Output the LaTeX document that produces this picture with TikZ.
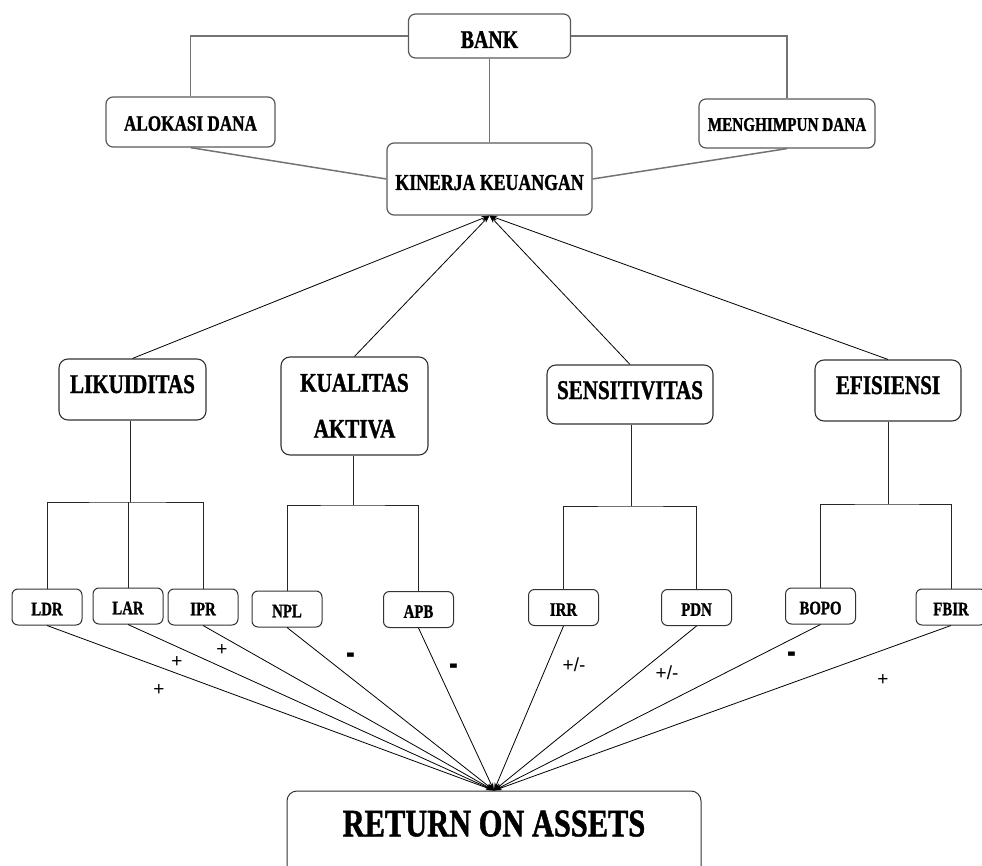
\documentclass[tikz,border=0pt]{standalone}
\usepackage{fontspec}
\setmainfont{Liberation Serif}
\newfontfamily\condf[FakeStretch=0.78, FakeBold=1.2, UprightFont=*, BoldFont=*]{Liberation Serif Bold}
\newfontfamily\labf{Liberation Sans}
\usetikzlibrary{arrows.meta}
\newcommand\bdash{\scalebox{1.4}[1.9]{\bfseries -}}
\begin{document}
\begin{tikzpicture}[x=1pt,y=-1pt,
  topbox/.style={draw=black!65, line width=1.2pt, rounded corners=7pt, inner sep=0pt, align=center},
  catbox/.style={draw=black!80, line width=1.1pt, rounded corners=9pt, inner sep=0pt, align=center,
     font=\condf\fontsize{27}{46}\selectfont, minimum width=147pt},
  smallbox/.style={draw=black!80, line width=1pt, rounded corners=6pt, inner sep=0pt,
     font=\condf\fontsize{19}{22}\selectfont, minimum width=70pt, minimum height=36pt,
     text height=16.5pt, text depth=0pt},
  topline/.style={draw=black!55, line width=1.5pt},
  tree/.style={draw=black!85, line width=1pt},
  conn/.style={draw=black, line width=0.8pt, -{Stealth[length=8pt,width=5pt]}},
  sign/.style={font=\labf\fontsize{19}{22}\selectfont, inner sep=0pt}
]
\useasboundingbox (0,0) rectangle (982,866);
\clip (0,0) rectangle (982,866);

% top level
\node[topbox, minimum width=162pt, minimum height=44pt, font=\condf\fontsize{25.5}{30}\selectfont,
      text height=24pt, text depth=0pt] (bank) at (489.5,36) {BANK};
\node[topbox, minimum width=169pt, minimum height=50pt, font=\condf\fontsize{22}{26}\selectfont,
      text height=17.5pt, text depth=0pt] (alokasi) at (190.5,122) {ALOKASI DANA};
\node[topbox, minimum width=176pt, minimum height=49pt, font=\condf\fontsize{19.5}{23}\selectfont,
      text height=14.8pt, text depth=0pt] (menghimpun) at (787,123.5) {MENGHIMPUN DANA};
\node[topbox, minimum width=205pt, minimum height=72pt, font=\condf\fontsize{22.8}{27}\selectfont,
      text height=22pt, text depth=0pt] (kinerja) at (489.5,179) {KINERJA KEUANGAN};

\draw[topline] (bank.west) -| (alokasi.north);
\draw[topline] (bank.east) -| (menghimpun.north);
\draw[topline] (bank.south) -- (kinerja.north);
\draw[topline] (alokasi.south) -- (kinerja.west);
\draw[topline] (menghimpun.south) -- (kinerja.east);

% categories
\node[catbox, minimum height=61pt, text height=18pt, text depth=11pt] (likuiditas) at (132.5,389.5) {LIKUIDITAS};
\node[catbox, minimum height=98pt] (kualitas) at (354.5,406) {KUALITAS\\AKTIVA};
\node[catbox, minimum width=166pt, minimum height=59pt, text height=18pt, text depth=9pt] (sensitivitas) at (630,394.5) {SENSITIVITAS};
\node[catbox, minimum width=146pt, minimum height=61pt, text height=18pt, text depth=11pt] (efisiensi) at (888,390.5) {EFISIENSI};

\draw[conn] (likuiditas.north) -- (kinerja.south);
\draw[conn] (kualitas.north) -- (kinerja.south);
\draw[conn] (sensitivitas.north) -- (kinerja.south);
\draw[conn] (efisiensi.north) -- (kinerja.south);

% indicators
\node[smallbox] (ldr) at (47,607) {LDR};
\node[smallbox] (lar) at (128,606) {LAR};
\node[smallbox] (ipr) at (203,607) {IPR};
\node[smallbox] (npl) at (287,609) {NPL};
\node[smallbox] (apb) at (418.5,609.5) {APB};
\node[smallbox] (irr) at (563.5,607.5) {IRR};
\node[smallbox] (pdn) at (696.5,607.5) {PDN};
\node[smallbox] (bopo) at (820.5,606) {BOPO};
\node[smallbox] (fbir) at (951,607) {FBIR};

% tree connectors
\coordinate (b1) at (130,502);
\draw[tree] (likuiditas.south -| b1) -- (b1);
\draw[tree] (ldr.north) |- (b1) -| (ipr.north);
\draw[tree] (lar.north) -- (lar.north |- b1);

\coordinate (b2) at (353,505);
\draw[tree] (kualitas.south -| b2) -- (b2);
\draw[tree] (npl.north) |- (b2) -| (apb.north);

\coordinate (b3) at (631,506);
\draw[tree] (sensitivitas.south -| b3) -- (b3);
\draw[tree] (irr.north) |- (b3) -| (pdn.north);

\coordinate (b4) at (888,504);
\draw[tree] (efisiensi.south -| b4) -- (b4);
\draw[tree] (bopo.north) |- (b4) -| (fbir.north);

% result
\node[draw=black!80, line width=1pt, rounded corners=10pt, inner sep=0pt,
      minimum width=414pt, minimum height=89pt,
      font=\condf\fontsize{39}{44}\selectfont, text height=25.7pt, text depth=24pt]
      (roa) at (494,835.5) {RETURN ON ASSETS};

\foreach \n in {ldr,lar,ipr,npl,apb,irr,pdn,bopo,fbir}
  \draw[conn] (\n.south) -- (roa.north);

% signs
\node[sign] (s1) at (159,690) {+};
\node[sign] (s2) at (177,662) {+};
\node[sign] (s3) at (222,650) {+};
\node[sign] (s4) at (351,659) {\bdash};
\node[sign] (s5) at (454,670) {\bdash};
\node[sign] (s6) at (574,665) {+/-};
\node[sign] (s7) at (667,673) {+/-};
\node[sign] (s8) at (792,658) {\bdash};
\node[sign] (s9) at (883,680) {+};
\end{tikzpicture}
\end{document}
